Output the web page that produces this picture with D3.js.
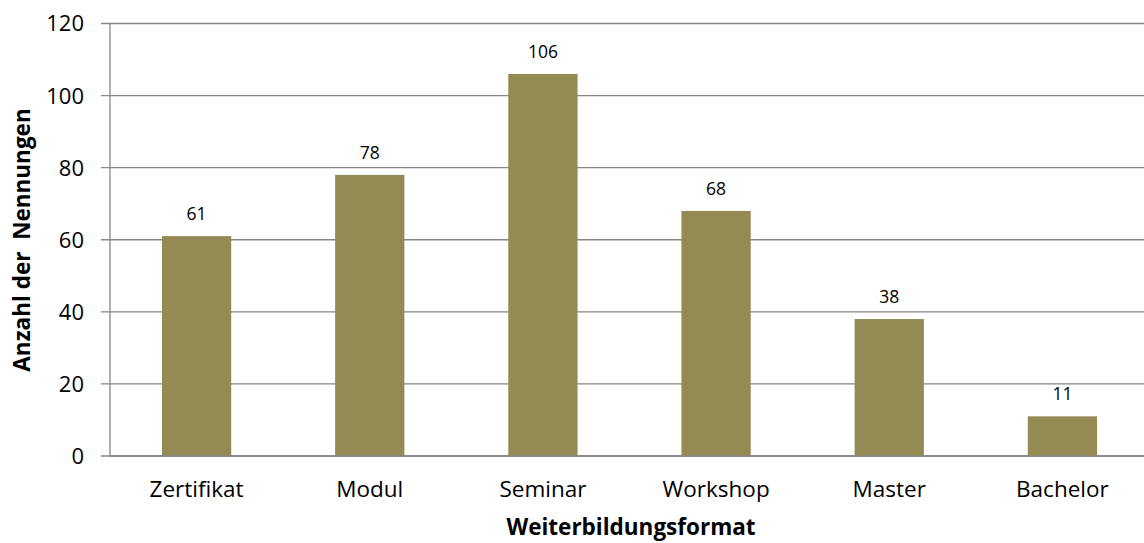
<!DOCTYPE html>
<html><head><meta charset="utf-8">
<script src="https://cdn.jsdelivr.net/npm/d3@7"></script>
<style>body{margin:0;background:#fff}svg{display:block;font-family:"Open Sans",sans-serif}</style>
</head><body><svg id="c" width="1144" height="543"></svg>
<script>
const categories = ["Zertifikat","Modul","Seminar","Workshop","Master","Bachelor"];
const values = [61,78,106,68,38,11];
const yTicks = [0,20,40,60,80,100,120];
const xTitle = "Weiterbildungsformat";
const yTitle = "Anzahl der  Nennungen";

const svg = d3.select("#c");
const L=110, R=1149, T=23.5, B=456;
const x = d3.scaleBand().domain(categories).range([L,R]).paddingInner(0.6).paddingOuter(0.3);
const y = d3.scaleLinear().domain([0,120]).range([B,T]);
const grid="#868686";

svg.append("g").selectAll("line").data(yTicks).join("line")
  .attr("x1",101).attr("x2",R).attr("y1",d=>y(d)).attr("y2",d=>y(d))
  .attr("stroke",grid).attr("stroke-width",1.3);
svg.append("line").attr("x1",L).attr("x2",L).attr("y1",T).attr("y2",B).attr("stroke",grid).attr("stroke-width",1.3);

svg.append("g").selectAll("text").data(yTicks).join("text")
  .attr("x",84).attr("y",d=>y(d)).attr("dy","0.36em").attr("text-anchor","end")
  .attr("font-size",22).attr("fill","#000").text(d=>d);

svg.append("g").selectAll("rect").data(values).join("rect")
  .attr("x",(d,i)=>x(categories[i])).attr("width",x.bandwidth())
  .attr("y",d=>y(d)).attr("height",d=>B-y(d)).attr("fill","#948A54");

svg.append("line").attr("x1",L).attr("x2",R).attr("y1",B).attr("y2",B).attr("stroke",grid).attr("stroke-width",1.3);

svg.append("g").selectAll("text").data(values).join("text")
  .attr("x",(d,i)=>x(categories[i])+x.bandwidth()/2).attr("y",d=>y(d)-16)
  .attr("text-anchor","middle").attr("font-size",17.5).text(d=>d);

svg.append("g").selectAll("text").data(categories).join("text")
  .attr("x",d=>x(d)+x.bandwidth()/2).attr("y",497)
  .attr("text-anchor","middle").attr("font-size",22.5).text(d=>d);

svg.append("text").attr("x",631).attr("y",535).attr("text-anchor","middle")
  .attr("font-size",22.5).attr("font-weight","bold").text(xTitle);
svg.append("text").attr("transform","translate(30,240) rotate(-90)").attr("text-anchor","middle")
  .attr("font-size",22.5).attr("font-weight","bold").attr("xml:space","preserve").style("white-space","pre").text(yTitle);
</script></body></html>
